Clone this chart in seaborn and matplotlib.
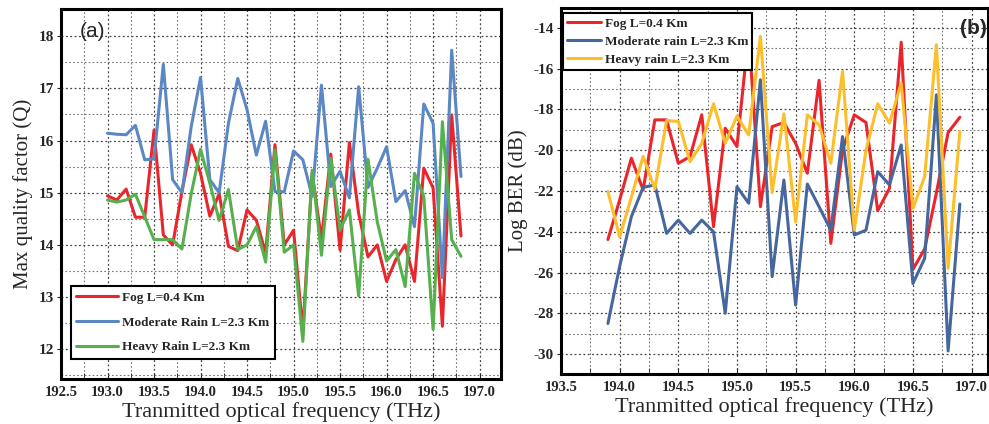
import numpy as np
import pandas as pd
import matplotlib
matplotlib.use("Agg")
import matplotlib.pyplot as plt
import seaborn as sns
from matplotlib.ticker import MultipleLocator

# ---------------- data: panel (a) ----------------
freq_a = [round(193.0 + 0.1 * i, 1) for i in range(39)]
fog_q = [14.94, 14.86, 15.07, 14.53, 14.53, 16.20, 14.19, 14.00, 15.02, 15.92,
         15.37, 14.55, 14.98, 13.97, 13.89, 14.67, 14.47, 13.84, 15.92, 14.00,
         14.28, 12.35, 15.37, 14.10, 15.74, 13.90, 15.96, 14.60, 13.77, 14.00,
         13.30, 13.72, 14.00, 13.30, 15.47, 15.09, 12.44, 16.49, 14.17]
mod_q = [16.14, 16.12, 16.11, 16.29, 15.63, 15.65, 17.46, 15.25, 15.00, 16.27,
         17.21, 15.25, 15.00, 16.33, 17.19, 16.59, 15.72, 16.37, 15.02, 15.02,
         15.80, 15.63, 14.93, 17.06, 15.12, 15.41, 14.90, 17.03, 15.10, 15.47,
         15.88, 14.83, 15.04, 14.35, 16.70, 16.33, 13.37, 17.73, 15.31]
heavy_q = [14.86, 14.82, 14.86, 14.97, 14.54, 14.10, 14.10, 14.10, 13.92, 14.98,
           15.83, 15.18, 14.47, 15.06, 13.91, 14.00, 14.35, 13.67, 15.82, 13.86,
           14.00, 12.15, 15.43, 13.80, 15.66, 14.29, 14.67, 13.02, 15.64, 14.44,
           13.69, 13.91, 13.20, 15.37, 14.93, 12.38, 16.36, 14.10, 13.78]
labels_a = ["Fog L=0.4 Km", "Moderate Rain L=2.3 Km", "Heavy Rain L=2.3 Km"]
xticks_a = [192.5, 193.0, 193.5, 194.0, 194.5, 195.0, 195.5, 196.0, 196.5, 197.0]
yticks_a = [12, 13, 14, 15, 16, 17, 18]

# ---------------- data: panel (b) ----------------
freq_b = [round(193.9 + 0.1 * i, 1) for i in range(31)]
fog_ber = [-24.38, -22.44, -20.39, -21.95, -18.51, -18.51, -20.64, -20.31, -18.26, -23.75,
           -18.92, -19.82, -14.25, -22.77, -18.84, -18.64, -19.66, -21.13, -16.57, -24.57,
           -20.00, -18.26, -18.64, -22.97, -21.87, -14.70, -25.85, -24.84, -22.10, -19.13,
           -18.38]
mod_ber = [-28.50, -25.70, -23.26, -21.82, -21.70, -24.08, -23.43, -24.08, -23.43, -24.00,
           -28.00, -21.79, -22.60, -16.54, -26.20, -21.46, -27.60, -21.66, -22.77, -23.92,
           -19.33, -24.16, -23.92, -21.05, -21.70, -19.74, -26.54, -25.31, -17.28, -29.85,
           -22.64]
heavy_ber = [-22.03, -24.25, -22.30, -20.30, -21.90, -18.54, -18.59, -20.56, -19.66, -17.72,
             -19.66, -18.33, -19.25, -14.41, -22.08, -18.21, -23.51, -18.26, -18.75, -20.64,
             -16.13, -23.92, -20.00, -17.72, -18.67, -16.70, -22.85, -21.30, -14.82, -25.80,
             -19.08]
labels_b = ["Fog L=0.4 Km", "Moderate rain L=2.3 Km", "Heavy rain L=2.3 Km"]
xticks_b = [193.5, 194.0, 194.5, 195.0, 195.5, 196.0, 196.5, 197.0]
yticks_b = [-30, -28, -26, -24, -22, -20, -18, -16, -14]

df_a = pd.DataFrame({
    "freq": freq_a * 3,
    "val": fog_q + mod_q + heavy_q,
    "series": [labels_a[0]] * 39 + [labels_a[1]] * 39 + [labels_a[2]] * 39,
})
df_b = pd.DataFrame({
    "freq": freq_b * 3,
    "val": fog_ber + mod_ber + heavy_ber,
    "series": [labels_b[0]] * 31 + [labels_b[1]] * 31 + [labels_b[2]] * 31,
})

sns.set_style("white")
plt.rcParams["font.family"] = ["Liberation Serif", "DejaVu Serif"]

pal_a = {labels_a[0]: "#e8262b", labels_a[1]: "#5b88c4", labels_a[2]: "#56b04d"}
pal_b = {labels_b[0]: "#e8262b", labels_b[1]: "#46679d", labels_b[2]: "#fcbf2b"}

fig = plt.figure(figsize=(9.89, 4.24), dpi=100)
ax1 = fig.add_axes([61 / 989, 45 / 424, 440 / 989, 370 / 424])
ax2 = fig.add_axes([561 / 989, 50 / 424, 427 / 989, 366 / 424])

sns.lineplot(data=df_a, x="freq", y="val", hue="series", palette=pal_a,
             hue_order=labels_a, linewidth=2.2, ax=ax1)
sns.lineplot(data=df_b, x="freq", y="val", hue="series", palette=pal_b,
             hue_order=labels_b, linewidth=2.2, ax=ax2)


def style(ax, xticks, yticks, xlim, ylim, xminor, yminor, ylabel):
    ax.set_xlim(*xlim)
    ax.set_ylim(*ylim)
    ax.set_xticks(xticks)
    ax.set_xticklabels([f"{t:.1f}" for t in xticks], fontweight="bold", fontsize=10.5)
    ax.set_yticks(yticks)
    ax.set_yticklabels([f"{t:d}" for t in yticks], fontweight="bold", fontsize=11)
    ax.xaxis.set_minor_locator(MultipleLocator(xminor))
    ax.yaxis.set_minor_locator(MultipleLocator(yminor))
    ax.grid(True, which="major", color="#444444", linestyle=(0, (1.5, 2)), linewidth=0.9)
    ax.grid(True, which="minor", color="#777777", linestyle=(0, (1.5, 2)), linewidth=0.8)
    ax.set_axisbelow(True)
    ax.tick_params(axis="x", which="both", direction="in", length=4, bottom=True, pad=5)
    ax.tick_params(axis="y", which="major", direction="out", length=3, left=True, pad=2)
    ax.tick_params(axis="y", which="minor", length=0)
    for s in ax.spines.values():
        s.set_linewidth(2.2)
        s.set_color("black")
    ax.set_xlabel("Tranmitted optical frequency (THz)", fontsize=16, labelpad=2)
    ax.set_ylabel(ylabel, fontsize=15, labelpad=4)


style(ax1, xticks_a, yticks_a, (192.5, 197.23), (11.43, 18.52), 0.25, 0.5,
      "Max quality factor (Q)")
style(ax2, xticks_b, yticks_b, (193.5, 197.14), (-30.98, -13.02), 0.25, 1,
      "Log BER (dB)")

ax1.text(0.043, 0.965, "(a)", transform=ax1.transAxes, fontsize=15,
         family="Liberation Sans", va="top", ha="left")
ax2.text(0.935, 0.97, "(b)", transform=ax2.transAxes, fontsize=15,
         family="Liberation Sans", fontweight="bold", va="top", ha="left")

leg1 = ax1.legend(loc="lower left", bbox_to_anchor=(0.022, 0.055), frameon=True,
                  fancybox=False, edgecolor="black", framealpha=1,
                  prop={"weight": "bold", "size": 9.5}, handlelength=3.2,
                  handletextpad=0.3, borderpad=0.4, labelspacing=0.95, borderaxespad=0)
leg1.get_frame().set_linewidth(1.5)
leg2 = ax2.legend(loc="upper left", bbox_to_anchor=(0.004, 0.985), frameon=True,
                  fancybox=False, edgecolor="black", framealpha=1,
                  prop={"weight": "bold", "size": 9.5}, handlelength=2.6,
                  handletextpad=0.3, borderpad=0.3, labelspacing=0.45, borderaxespad=0)
leg2.get_frame().set_linewidth(1.5)

fig.savefig("out.png", dpi=100)
